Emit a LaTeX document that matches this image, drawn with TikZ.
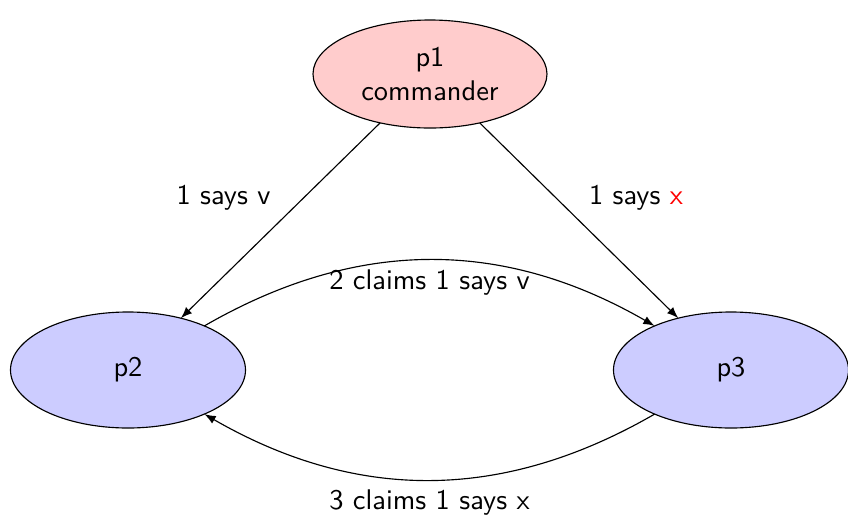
\documentclass[tikz,border=0pt]{standalone}
\usetikzlibrary{shapes.geometric,arrows}
\begin{document}
\begin{tikzpicture}[x=0.352pt,y=-0.352pt,font=\sffamily,
  proc/.style={ellipse,draw,outer sep=0pt,inner sep=0pt,align=center},
  cmd/.style={proc,fill=red!20,minimum width=234\pxu,minimum height=108\pxu},
  lieut/.style={proc,fill=blue!20,minimum width=235\pxu,minimum height=116\pxu},
  msg/.style={-latex}]
\def\pxu{*0.352pt}
\useasboundingbox (0,0) rectangle (848,517);
\node[cmd] (p1) at (430,74) {p1\\commander};
\node[lieut] (p2) at (128,370) {p2};
\node[lieut] (p3) at (731,370) {p3};
\draw[msg] (p1) -- node[above left] {1 says v} (p2);
\draw[msg] (p1) -- node[above right] {1 says \textcolor{red}{x}} (p3);
\draw[msg] (p2) to[bend left] node[below] {2 claims 1 says v} (p3);
\draw[msg] (p3) to[bend left] node[below] {3 claims 1 says x} (p2);
\end{tikzpicture}
\end{document}
